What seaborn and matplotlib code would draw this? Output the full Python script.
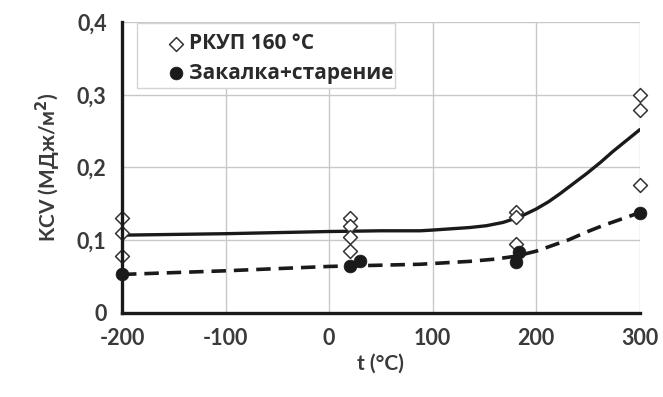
import matplotlib
matplotlib.use("Agg")
import matplotlib.pyplot as plt
import seaborn as sns
import pandas as pd
from matplotlib.ticker import MultipleLocator, FuncFormatter
from matplotlib.patches import Rectangle

# --- data ---
ecap_t = [-200, -200, -200, 20, 20, 20, 20, 180, 180, 180, 300, 300, 300]
ecap_kcv = [0.130, 0.110, 0.079, 0.130, 0.120, 0.105, 0.085, 0.139, 0.132, 0.095, 0.300, 0.279, 0.176]

qa_t = [-200, 20, 30, 180, 183, 300]
qa_kcv = [0.054, 0.065, 0.071, 0.070, 0.084, 0.138]

# trend curves
fit_ecap_t = [-200, -100, 0, 50, 88, 100, 136, 152, 168, 184, 200, 212, 223, 236, 249, 262, 274, 287, 300]
fit_ecap_kcv = [0.107, 0.109, 0.112, 0.113, 0.113, 0.114, 0.1175, 0.120, 0.1245, 0.132, 0.143, 0.153, 0.164, 0.178, 0.192, 0.207, 0.222, 0.237, 0.252]

fit_qa_t = [-200, -100, 0, 88, 136, 160, 180, 200, 216, 232, 248, 264, 282, 300]
fit_qa_kcv = [0.053, 0.058, 0.064, 0.067, 0.071, 0.074, 0.078, 0.085, 0.093, 0.101, 0.111, 0.120, 0.129, 0.138]

label_ecap = "РКУП 160 °C"
label_qa = "Закалка+старение"
x_label = "t (°C)"
y_label = "KCV (МДж/м$^2$)"

sns.set_style("white")
plt.rcParams['font.family'] = ['Lato', 'DejaVu Sans']
plt.rcParams['font.weight'] = 'bold'

fig = plt.figure(figsize=(6.63, 3.97), dpi=100)
ax = fig.add_axes([0.184, 0.2116, 0.781, 0.733])

df_fe = pd.DataFrame({"t": fit_ecap_t, "kcv": fit_ecap_kcv})
df_fq = pd.DataFrame({"t": fit_qa_t, "kcv": fit_qa_kcv})
df_e = pd.DataFrame({"t": ecap_t, "kcv": ecap_kcv})
df_q = pd.DataFrame({"t": qa_t, "kcv": qa_kcv})

sns.lineplot(data=df_fe, x="t", y="kcv", ax=ax, color="#1a1a1a", lw=2.4,
             sort=False, estimator=None, legend=False, zorder=3)
sns.lineplot(data=df_fq, x="t", y="kcv", ax=ax, color="#1a1a1a", lw=2.6,
             sort=False, estimator=None, legend=False, zorder=3,
             dashes=False, linestyle=(0, (4, 2.2)))

sns.scatterplot(data=df_e, x="t", y="kcv", ax=ax, marker="D", s=50,
                facecolor="white", edgecolor="#333333", linewidth=1.1,
                label=label_ecap, zorder=4, clip_on=False)
sns.scatterplot(data=df_q, x="t", y="kcv", ax=ax, marker="o", s=85,
                color="#1a1a1a", edgecolor="#1a1a1a", linewidth=0.5,
                label=label_qa, zorder=5, clip_on=False)

ax.set_xlim(-200, 300)
ax.set_ylim(0, 0.4)
ax.xaxis.set_major_locator(MultipleLocator(100))
ax.xaxis.set_minor_locator(MultipleLocator(50))
ax.yaxis.set_major_locator(MultipleLocator(0.1))
ax.yaxis.set_minor_locator(MultipleLocator(0.05))
ax.yaxis.set_major_formatter(FuncFormatter(
    lambda v, p: "0" if abs(v) < 1e-9 else f"{v:.1f}".replace(".", ",")))
ax.xaxis.set_major_formatter(FuncFormatter(lambda v, p: f"{int(round(v))}"))

ax.grid(True, which="major", color="#c8c8c8", lw=1.0)
ax.set_axisbelow(True)
for s in ["top", "right"]:
    ax.spines[s].set_visible(False)
for s in ["left", "bottom"]:
    ax.spines[s].set_color("#1a1a1a")
    ax.spines[s].set_linewidth(2.4)
    ax.spines[s].set_zorder(6)

ax.tick_params(axis="both", which="major", direction="inout", length=8, width=2.2,
               color="#1a1a1a", labelsize=15.5, labelcolor="#3a3a3a", pad=7)
ax.tick_params(axis="both", which="minor", direction="inout", length=6, width=2.0,
               color="#1a1a1a")
for lab in ax.get_xticklabels() + ax.get_yticklabels():
    lab.set_fontweight("bold")

ax.set_xlabel(x_label, fontsize=15, fontweight="bold", color="#3a3a3a", labelpad=3)
ax.set_ylabel(y_label, fontsize=15, fontweight="bold", color="#3a3a3a", labelpad=10)

# legend box (frame drawn separately to match the wide left padding)
ax.add_patch(Rectangle((0.029, 0.773), 0.498, 0.2236, transform=ax.transAxes,
                       facecolor="white", edgecolor="#d4d4d4", lw=1.0, zorder=7))
leg = ax.legend(loc="upper left", bbox_to_anchor=(0.084, 0.962), frameon=False,
                prop={"family": ["Open Sans", "DejaVu Sans"], "weight": "bold", "size": 15},
                handletextpad=0.15, borderpad=0.0, labelspacing=0.42,
                handlelength=1.0, borderaxespad=0.0)
leg.set_zorder(8)
for t in leg.get_texts():
    t.set_color("#2a2a2a")

fig.savefig("out.png", dpi=100, facecolor="white")
